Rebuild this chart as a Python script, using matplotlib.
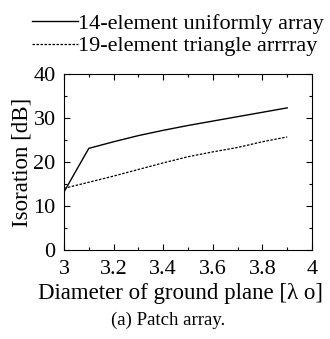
import matplotlib
matplotlib.use("Agg")
import matplotlib.pyplot as plt
from matplotlib.ticker import MultipleLocator

plt.rcParams['font.family'] = ['Liberation Serif', 'DejaVu Serif']

diameter = [3.0, 3.1, 3.2, 3.3, 3.4, 3.5, 3.6, 3.7, 3.8, 3.9]
uniform14 = [13.2, 23.1, 24.6, 26.0, 27.2, 28.3, 29.3, 30.3, 31.3, 32.3]
triangle19 = [14.0, 15.4, 16.8, 18.3, 19.8, 21.2, 22.3, 23.3, 24.6, 25.7]
xticks = [3, 3.2, 3.4, 3.6, 3.8, 4]
xtick_labels = ['3', '3.2', '3.4', '3.6', '3.8', '4']
yticks = [0, 10, 20, 30, 40]

fig = plt.figure(figsize=(3.3, 3.39), dpi=100)
ax = fig.add_axes([64/330, 1 - 250/339, 248/330, 176/339])

ax.plot(diameter, uniform14, color='black', lw=1.0, label='14-element uniformly array')
ax.plot(diameter, triangle19, color='black', lw=0.9, ls=(0, (2, 1.2)),
        label='19-element triangle arrrray')

ax.set_xlim(3, 4)
ax.set_ylim(0, 40)
ax.set_xticks(xticks)
ax.set_xticklabels(xtick_labels)
ax.set_yticks(yticks)
ax.xaxis.set_minor_locator(MultipleLocator(0.1))
ax.yaxis.set_minor_locator(MultipleLocator(5))
ax.tick_params(which='both', direction='in', top=True, right=True, labelsize=16, width=0.8)
ax.tick_params(which='major', length=4)
ax.tick_params(axis='x', which='major', pad=7)
ax.tick_params(axis='y', which='major', pad=6)
ax.tick_params(which='minor', length=2.5)
for s in ax.spines.values():
    s.set_linewidth(0.8)

ax.set_xlabel('Diameter of ground plane [λ o]', fontsize=16.5, labelpad=2)
ax.xaxis.set_label_coords(0.47, -0.185)
ax.set_ylabel('Isoration [dB]', fontsize=16.5, labelpad=1)

ax.legend(loc='lower left', bbox_to_anchor=(-0.13, 1.1), frameon=False, fontsize=16,
          handlelength=2.1, handletextpad=0.0, labelspacing=0.1, borderpad=0, borderaxespad=0)

fig.text(0.51, 1 - 320/339, '(a) Patch array.', ha='center', va='center', fontsize=13.5)

fig.savefig('out.png', dpi=100)
